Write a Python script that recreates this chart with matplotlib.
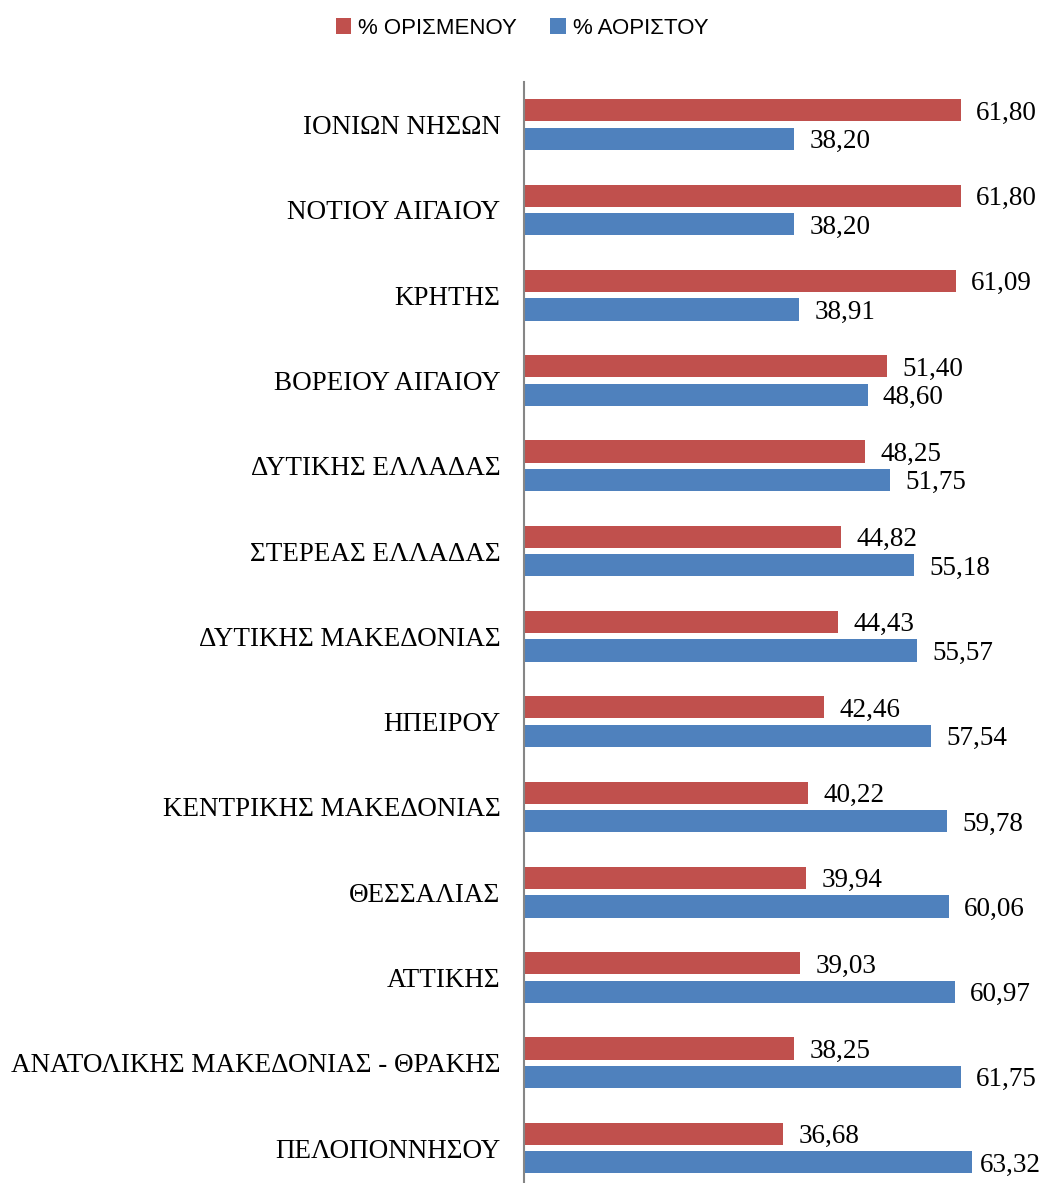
import matplotlib
matplotlib.use("Agg")
import matplotlib.pyplot as plt
import numpy as np

regions = ["ΙΟΝΙΩΝ ΝΗΣΩΝ", "ΝΟΤΙΟΥ ΑΙΓΑΙΟΥ", "ΚΡΗΤΗΣ", "ΒΟΡΕΙΟΥ ΑΙΓΑΙΟΥ",
           "ΔΥΤΙΚΗΣ ΕΛΛΑΔΑΣ", "ΣΤΕΡΕΑΣ ΕΛΛΑΔΑΣ", "ΔΥΤΙΚΗΣ ΜΑΚΕΔΟΝΙΑΣ", "ΗΠΕΙΡΟΥ",
           "ΚΕΝΤΡΙΚΗΣ ΜΑΚΕΔΟΝΙΑΣ", "ΘΕΣΣΑΛΙΑΣ", "ΑΤΤΙΚΗΣ",
           "ΑΝΑΤΟΛΙΚΗΣ ΜΑΚΕΔΟΝΙΑΣ - ΘΡΑΚΗΣ", "ΠΕΛΟΠΟΝΝΗΣΟΥ"]
orismenou = [61.80, 61.80, 61.09, 51.40, 48.25, 44.82, 44.43, 42.46, 40.22, 39.94, 39.03, 38.25, 36.68]
aoristou = [38.20, 38.20, 38.91, 48.60, 51.75, 55.18, 55.57, 57.54, 59.78, 60.06, 60.97, 61.75, 63.32]
series_names = ["% ΟΡΙΣΜΕΝΟΥ", "% ΑΟΡΙΣΤΟΥ"]

RED = "#C0504D"
BLUE = "#4F81BD"

W, H = 1044, 1183
fig = plt.figure(figsize=(W / 100, H / 100), dpi=100)
ax_left, ax_top, ax_bottom = 524, 82, 1183
ax = fig.add_axes([ax_left / W, 1 - ax_bottom / H, (W - ax_left) / W, (ax_bottom - ax_top) / H])

y = np.arange(len(regions))
bh = 0.26
off = 0.167
b1 = ax.barh(y - off, orismenou, height=bh, color=RED, label=series_names[0])
b2 = ax.barh(y + off, aoristou, height=bh, color=BLUE, label=series_names[1])

ax.set_xlim(0, (W - ax_left) / 7.07)
ax.set_ylim(12.41, -0.5)
ax.set_yticks(y)
ax.set_yticklabels(regions, fontsize=19.5, family="Liberation Serif")
ax.tick_params(axis="y", length=0, pad=17)
ax.set_xticks([])
for s in ("top", "right", "bottom"):
    ax.spines[s].set_visible(False)
ax.spines["left"].set_color("#868686")
ax.spines["left"].set_linewidth(1.5)

fig.canvas.draw()
renderer = fig.canvas.get_renderer()
fig_right = fig.bbox.x1
for bars, vals in ((b1, orismenou), (b2, aoristou)):
    for rect, v in zip(bars, vals):
        ann = ax.annotate(f"{v:.2f}".replace(".", ","),
                          xy=(v, rect.get_y() + rect.get_height() / 2),
                          xytext=(11, -2), textcoords="offset points",
                          ha="left", va="center", fontsize=19.5, family="Liberation Serif")
        bb = ann.get_window_extent(renderer)
        if bb.x1 > fig_right - 3:
            shift_px = bb.x1 - (fig_right - 3)
            ann.xyann = (11 - shift_px * 72 / fig.dpi, -2)

fig.legend(handles=[b1, b2], labels=series_names, loc="center",
           bbox_to_anchor=(0.5, 1 - 28 / H), ncol=2, frameon=False,
           prop={"family": "Liberation Sans", "size": 16},
           handlelength=0.7, handleheight=0.7, handletextpad=0.3, columnspacing=1.5)

fig.savefig("out.png", dpi=100)
